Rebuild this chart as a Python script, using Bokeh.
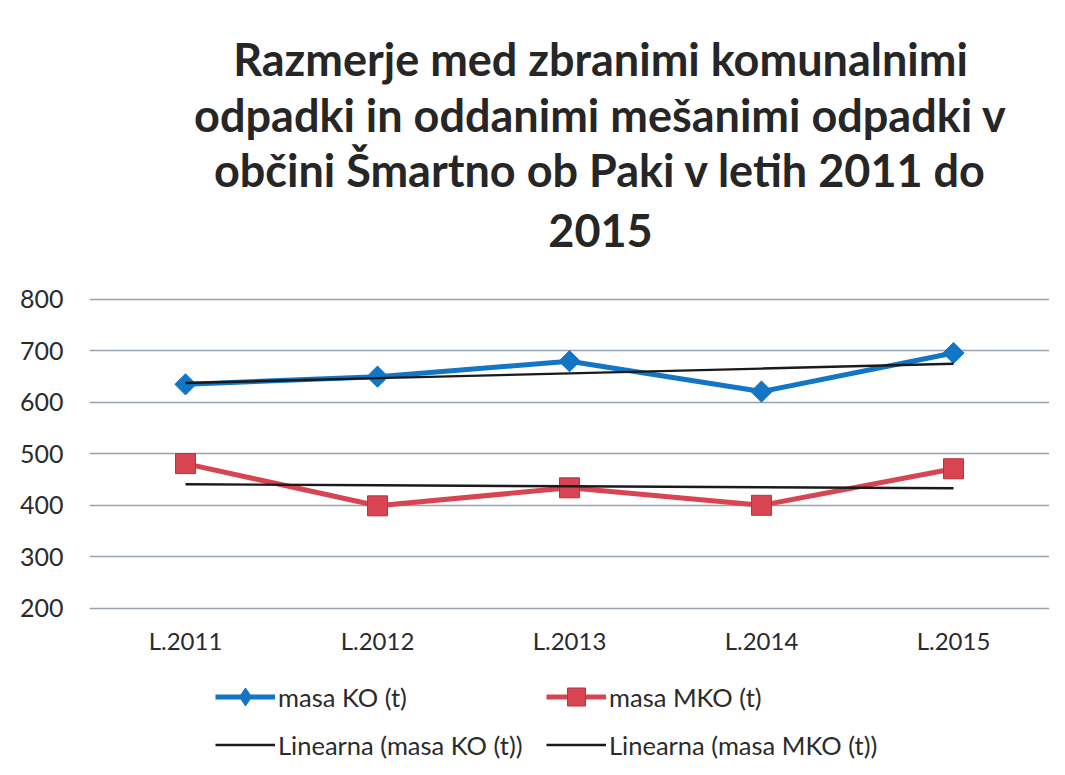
from bokeh.plotting import figure
from bokeh.models import FactorRange, Range1d, FixedTicker, Label, Legend, LegendItem
from bokeh.embed import file_html
from bokeh.resources import INLINE
import numpy as np

# ---- data ----
categories = ["L.2011", "L.2012", "L.2013", "L.2014", "L.2015"]
masa_ko = [635, 650, 680, 621, 696]
masa_mko = [481, 399, 434, 400, 471]
y_ticks = [200, 300, 400, 500, 600, 700, 800]
title_lines = [
    "Razmerje med zbranimi komunalnimi",
    "odpadki in oddanimi mešanimi odpadki v",
    "občini Šmartno ob Paki v letih 2011 do",
    "2015",
]
series_names = ["masa KO (t)", "masa MKO (t)"]
trend_names = ["Linearna (masa KO (t))", "Linearna (masa MKO (t))"]

# linear trend (least squares) computed from the series values
x_idx = np.arange(1, len(categories) + 1)


def linear_trend(vals):
    slope, intercept = np.polyfit(x_idx, vals, 1)
    return list(slope * x_idx + intercept)


trend_ko = linear_trend(masa_ko)
trend_mko = linear_trend(masa_mko)

FONT = "Lato"
BLUE = "#1375C6"
RED = "#D94452"
TXT = "#2b2b2b"

p = figure(
    width=1049, height=759,
    x_range=FactorRange(factors=categories),
    y_range=Range1d(-94, 1381),
    output_backend="svg", toolbar_location=None,
    min_border_left=89, min_border_right=0, min_border_top=0, min_border_bottom=0,
    background_fill_color="white", border_fill_color="white",
)
p.outline_line_color = None

# axes
p.yaxis.ticker = FixedTicker(ticks=y_ticks)
p.yaxis.axis_line_color = None
p.yaxis.major_tick_line_color = None
p.yaxis.minor_tick_line_color = None
p.yaxis.major_label_standoff = 20
p.yaxis.major_label_text_font = FONT
p.yaxis.major_label_text_font_size = "25px"
p.yaxis.major_label_text_color = TXT

p.xaxis.fixed_location = 200
p.xaxis.axis_line_color = None
p.xaxis.major_tick_line_color = None
p.xaxis.major_label_standoff = 12
p.xaxis.major_label_text_font = FONT
p.xaxis.major_label_text_font_size = "24px"
p.xaxis.major_label_text_color = TXT

p.xgrid.grid_line_color = None
p.ygrid.grid_line_color = "#98A2AC"
p.ygrid.grid_line_width = 1.6

# series
ko_line = p.line(categories, masa_ko, line_color=BLUE, line_width=5)
# diamond proxy for the legend (sits fully inside the rotated-square markers)
ko_legend_marker = p.scatter(categories, masa_ko, marker="diamond", size=18,
                             fill_color=BLUE, line_color=BLUE)
ko_pts = p.scatter(categories, masa_ko, marker="square", angle=np.pi / 4, size=15,
                   fill_color=BLUE, line_color=BLUE)
mko_line = p.line(categories, masa_mko, line_color=RED, line_width=5)
mko_pts = p.scatter(categories, masa_mko, marker="square", size=20,
                    fill_color=RED, line_color="#B83240", line_width=1)
tr_ko = p.line(categories, trend_ko, line_color="#1a1a1a", line_width=2.4)
tr_mko = p.line(categories, trend_mko, line_color="#1a1a1a", line_width=2.4)

# title (centered, 4 lines)
title_x = 511
title_y = [701, 645, 590, 529]
for txt, ty in zip(title_lines, title_y):
    p.add_layout(Label(x=title_x, y=ty, x_units="screen", y_units="screen", text=txt,
                       text_align="center", text_baseline="alphabetic",
                       text_font=FONT, text_font_style="bold", text_font_size="45px",
                       text_color="#262626"))


def make_legend(items, x):
    lg = Legend(items=items, location=(x, -8), orientation="vertical",
                glyph_width=60, glyph_height=45, label_height=45, spacing=3,
                padding=0, margin=0, label_standoff=3,
                label_text_font=FONT, label_text_font_size="25.5px",
                label_text_color=TXT,
                border_line_color=None, background_fill_alpha=0)
    return lg


lg1 = make_legend([LegendItem(label=series_names[0], renderers=[ko_line, ko_legend_marker]),
                   LegendItem(label=trend_names[0], renderers=[tr_ko])], 126)
lg2 = make_legend([LegendItem(label=series_names[1], renderers=[mko_line, mko_pts]),
                   LegendItem(label=trend_names[1], renderers=[tr_mko])], 457)
p.add_layout(lg1, "center")
p.add_layout(lg2, "center")

open("out.html", "w").write(file_html(p, INLINE))
